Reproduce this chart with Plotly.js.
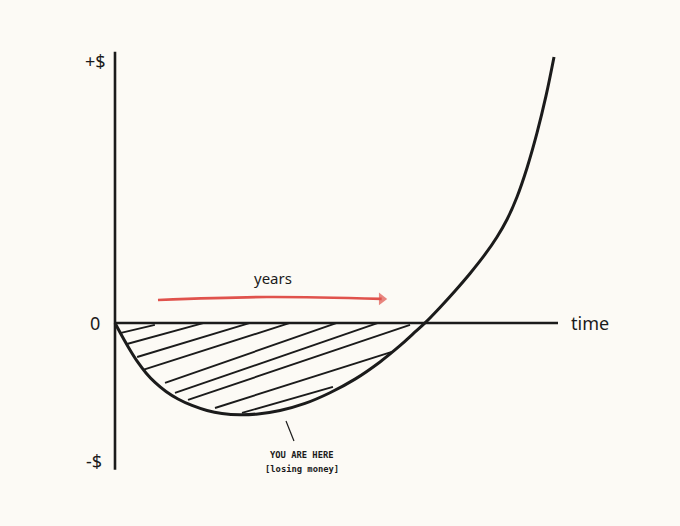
<!DOCTYPE html>
<html>
<head>
<meta charset="utf-8">
<script src="https://cdn.plot.ly/plotly-3.0.1.min.js"></script>
<style>html,body{margin:0;padding:0;background:#fcfaf5;}</style>
</head>
<body>
<div id="chart" style="width:680px;height:526px;"></div>
<script>
// J-curve: time (years) vs. value ($)
var curveT = [0, 0.158, 0.339, 0.519, 0.700, 0.903, 1.151, 1.422, 1.738, 2.077, 2.415, 2.822, 3.228, 3.725, 4.289, 4.853, 5.418, 5.982, 6.433, 6.727, 6.998, 7.336, 7.675, 8.014, 8.352, 8.623, 8.849, 9.074, 9.300, 9.526, 9.729, 9.910];
var curveV = [0, -4.81, -10.00, -14.63, -18.52, -22.04, -25.37, -28.15, -30.56, -32.41, -33.52, -34.00, -33.70, -32.44, -29.81, -25.85, -20.81, -14.44, -8.44, -4.07, 0, 5.74, 11.85, 18.33, 25.37, 31.85, 38.33, 46.67, 57.41, 70.37, 84.07, 98.52];

// axes extents
var axisTimeEnd = 10.0;
var axisValueTop = 100.4;
var axisValueBottom = -54.4;

// hatch strokes inside the loss area
var hatchStartT = [0.135, 0.27, 0.50, 0.632, 1.129, 1.354, 1.648, 2.257, 2.867];
var hatchStartV = [-3.7, -7.8, -12.6, -17.4, -22.2, -25.9, -28.5, -31.5, -33.3];
var hatchEndT   = [0.90, 2.01, 3.05, 3.95, 5.01, 5.94, 6.66, 6.25, 4.92];
var hatchEndV   = [-0.7, 0, 0, 0, 0, 0, -0.7, -10.7, -23.7];

// red "years" arrow
var arrowT = [0.97, 3.43, 6.02];
var arrowV = [8.5, 9.6, 8.9];

// pointer to the bottom of the curve
var pointerT = [3.86, 4.04];
var pointerV = [-36.3, -43.7];

// labels
var labelText = ["+$", "0", "-$", "time", "years"];
var labelT = [-0.43, -0.45, -0.47, 10.72, 3.57];
var labelV = [97, 0, -51.1, 0, 16.7];
var noteLines = ["YOU ARE HERE", "[losing money]"];

var ink = "#1b1b1b";
var hx = [], hy = [];
for (var i = 0; i < hatchStartT.length; i++) {
  hx.push(hatchStartT[i], hatchEndT[i], null);
  hy.push(hatchStartV[i], hatchEndV[i], null);
}

var traces = [
  {x: hx, y: hy, mode: "lines", line: {color: ink, width: 1.9}, hoverinfo: "skip"},
  {x: [0, 0], y: [axisValueTop, axisValueBottom], mode: "lines", line: {color: ink, width: 2.6}, hoverinfo: "skip"},
  {x: [0, axisTimeEnd], y: [0, 0], mode: "lines", line: {color: ink, width: 2.6}, hoverinfo: "skip"},
  {x: curveT, y: curveV, mode: "lines", line: {color: ink, width: 3, shape: "spline", smoothing: 1}, hoverinfo: "skip"},
  {x: pointerT, y: pointerV, mode: "lines", line: {color: ink, width: 1.2}, hoverinfo: "skip"},
  {x: arrowT, y: arrowV, mode: "lines+markers", line: {color: "#e0524c", width: 2.6, shape: "spline"},
   marker: {symbol: "triangle-right", size: [0, 0, 11], color: "#e0524c", line: {width: 0}}, hoverinfo: "skip"}
];

var annotations = [];
for (var j = 0; j < labelText.length; j++) {
  annotations.push({x: labelT[j], y: labelV[j], xref: "x", yref: "y", text: labelText[j], showarrow: false,
    font: {family: "Noto Sans, DejaVu Sans, sans-serif", size: j === 4 ? 15 : 18, color: ink}});
}
annotations.push({x: 4.22, y: -48.9, xref: "x", yref: "y", text: "<b>" + noteLines[0] + "</b>", showarrow: false,
  font: {family: "DejaVu Sans Mono, Liberation Mono, monospace", size: 8.8, color: ink}});
annotations.push({x: 4.22, y: -54.1, xref: "x", yref: "y", text: "<b>" + noteLines[1] + "</b>", showarrow: false,
  font: {family: "DejaVu Sans Mono, Liberation Mono, monospace", size: 8.8, color: ink}});

var layout = {
  width: 680, height: 526,
  margin: {l: 0, r: 0, t: 0, b: 0},
  paper_bgcolor: "#fcfaf5", plot_bgcolor: "#fcfaf5",
  showlegend: false,
  xaxis: {range: [-2.596, 12.754], visible: false, fixedrange: true},
  yaxis: {range: [-75.2, 119.6], visible: false, fixedrange: true},
  annotations: annotations
};

Plotly.newPlot("chart", traces, layout, {displayModeBar: false, staticPlot: true});
</script>
</body>
</html>
